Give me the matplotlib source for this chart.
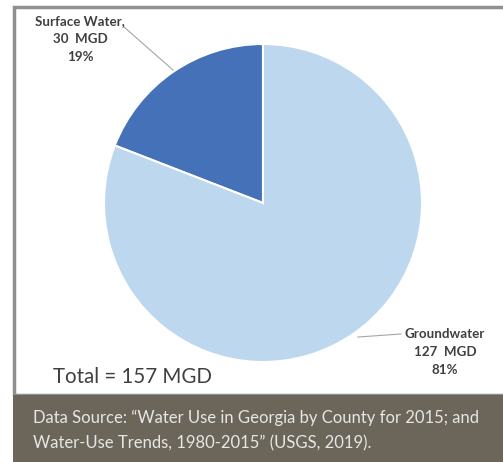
import matplotlib
matplotlib.use("Agg")
import matplotlib.pyplot as plt
from matplotlib.patches import Rectangle

categories = ["Surface Water", "Groundwater"]
values_mgd = [30, 127]
percents = ["19%", "81%"]
total_label = "Total = 157 MGD"
source_lines = ["Data Source: \u201cWater Use in Georgia by County for 2015; and",
                "Water-Use Trends, 1980-2015\u201d (USGS, 2019)."]

W, H = 503, 462
fig = plt.figure(figsize=(W / 100, H / 100), dpi=100)
ax = fig.add_axes([0, 0, 1, 1])

def Y(y):
    return H - y

colors = ["#4571b8", "#bdd7ee"]
ax.pie(values_mgd, colors=colors, startangle=90, counterclock=True,
       center=(263, Y(203)), radius=159,
       wedgeprops=dict(edgecolor="white", linewidth=1.5), frame=True)

ax.set_xlim(0, W)
ax.set_ylim(0, H)
ax.set_aspect("auto")
ax.axis("off")

# border box
ax.add_patch(Rectangle((14, Y(395)), 520, 395 - 7, fill=False,
                       edgecolor="#8f8f8f", linewidth=2.5, zorder=0))
# bottom band
ax.add_patch(Rectangle((13, 0), W, H - 395, facecolor="#6b6659",
                       edgecolor="none", zorder=3))

font = "Lato"
tc = "#404040"
# Surface water label
ax.text(80, Y(39), f"{categories[0]},\n{values_mgd[0]}  MGD\n{percents[0]}",
        ha="center", va="center", fontsize=9.6, fontweight="bold",
        family=font, color=tc, linespacing=1.6)
ax.plot([124, 173], [Y(27), Y(70)], color="#a6a6a6", linewidth=0.8)

# Groundwater label
ax.text(445, Y(352), f"{categories[1]}\n{values_mgd[1]}  MGD\n{percents[1]}",
        ha="center", va="center", fontsize=9.6, fontweight="bold",
        family=font, color=tc, linespacing=1.6)
ax.plot([358, 401], [Y(337), Y(334)], color="#a6a6a6", linewidth=0.8)

ax.text(53, Y(377), total_label, ha="left", va="center", fontsize=14.8,
        family=font, color=tc)

ax.text(33, Y(418), source_lines[0], ha="left", va="center", fontsize=12,
        family=font, color="#e6e6e6", zorder=4)
ax.text(33, Y(443), source_lines[1], ha="left", va="center", fontsize=12,
        family=font, color="#e6e6e6", zorder=4)

fig.savefig("out.png", dpi=100)
